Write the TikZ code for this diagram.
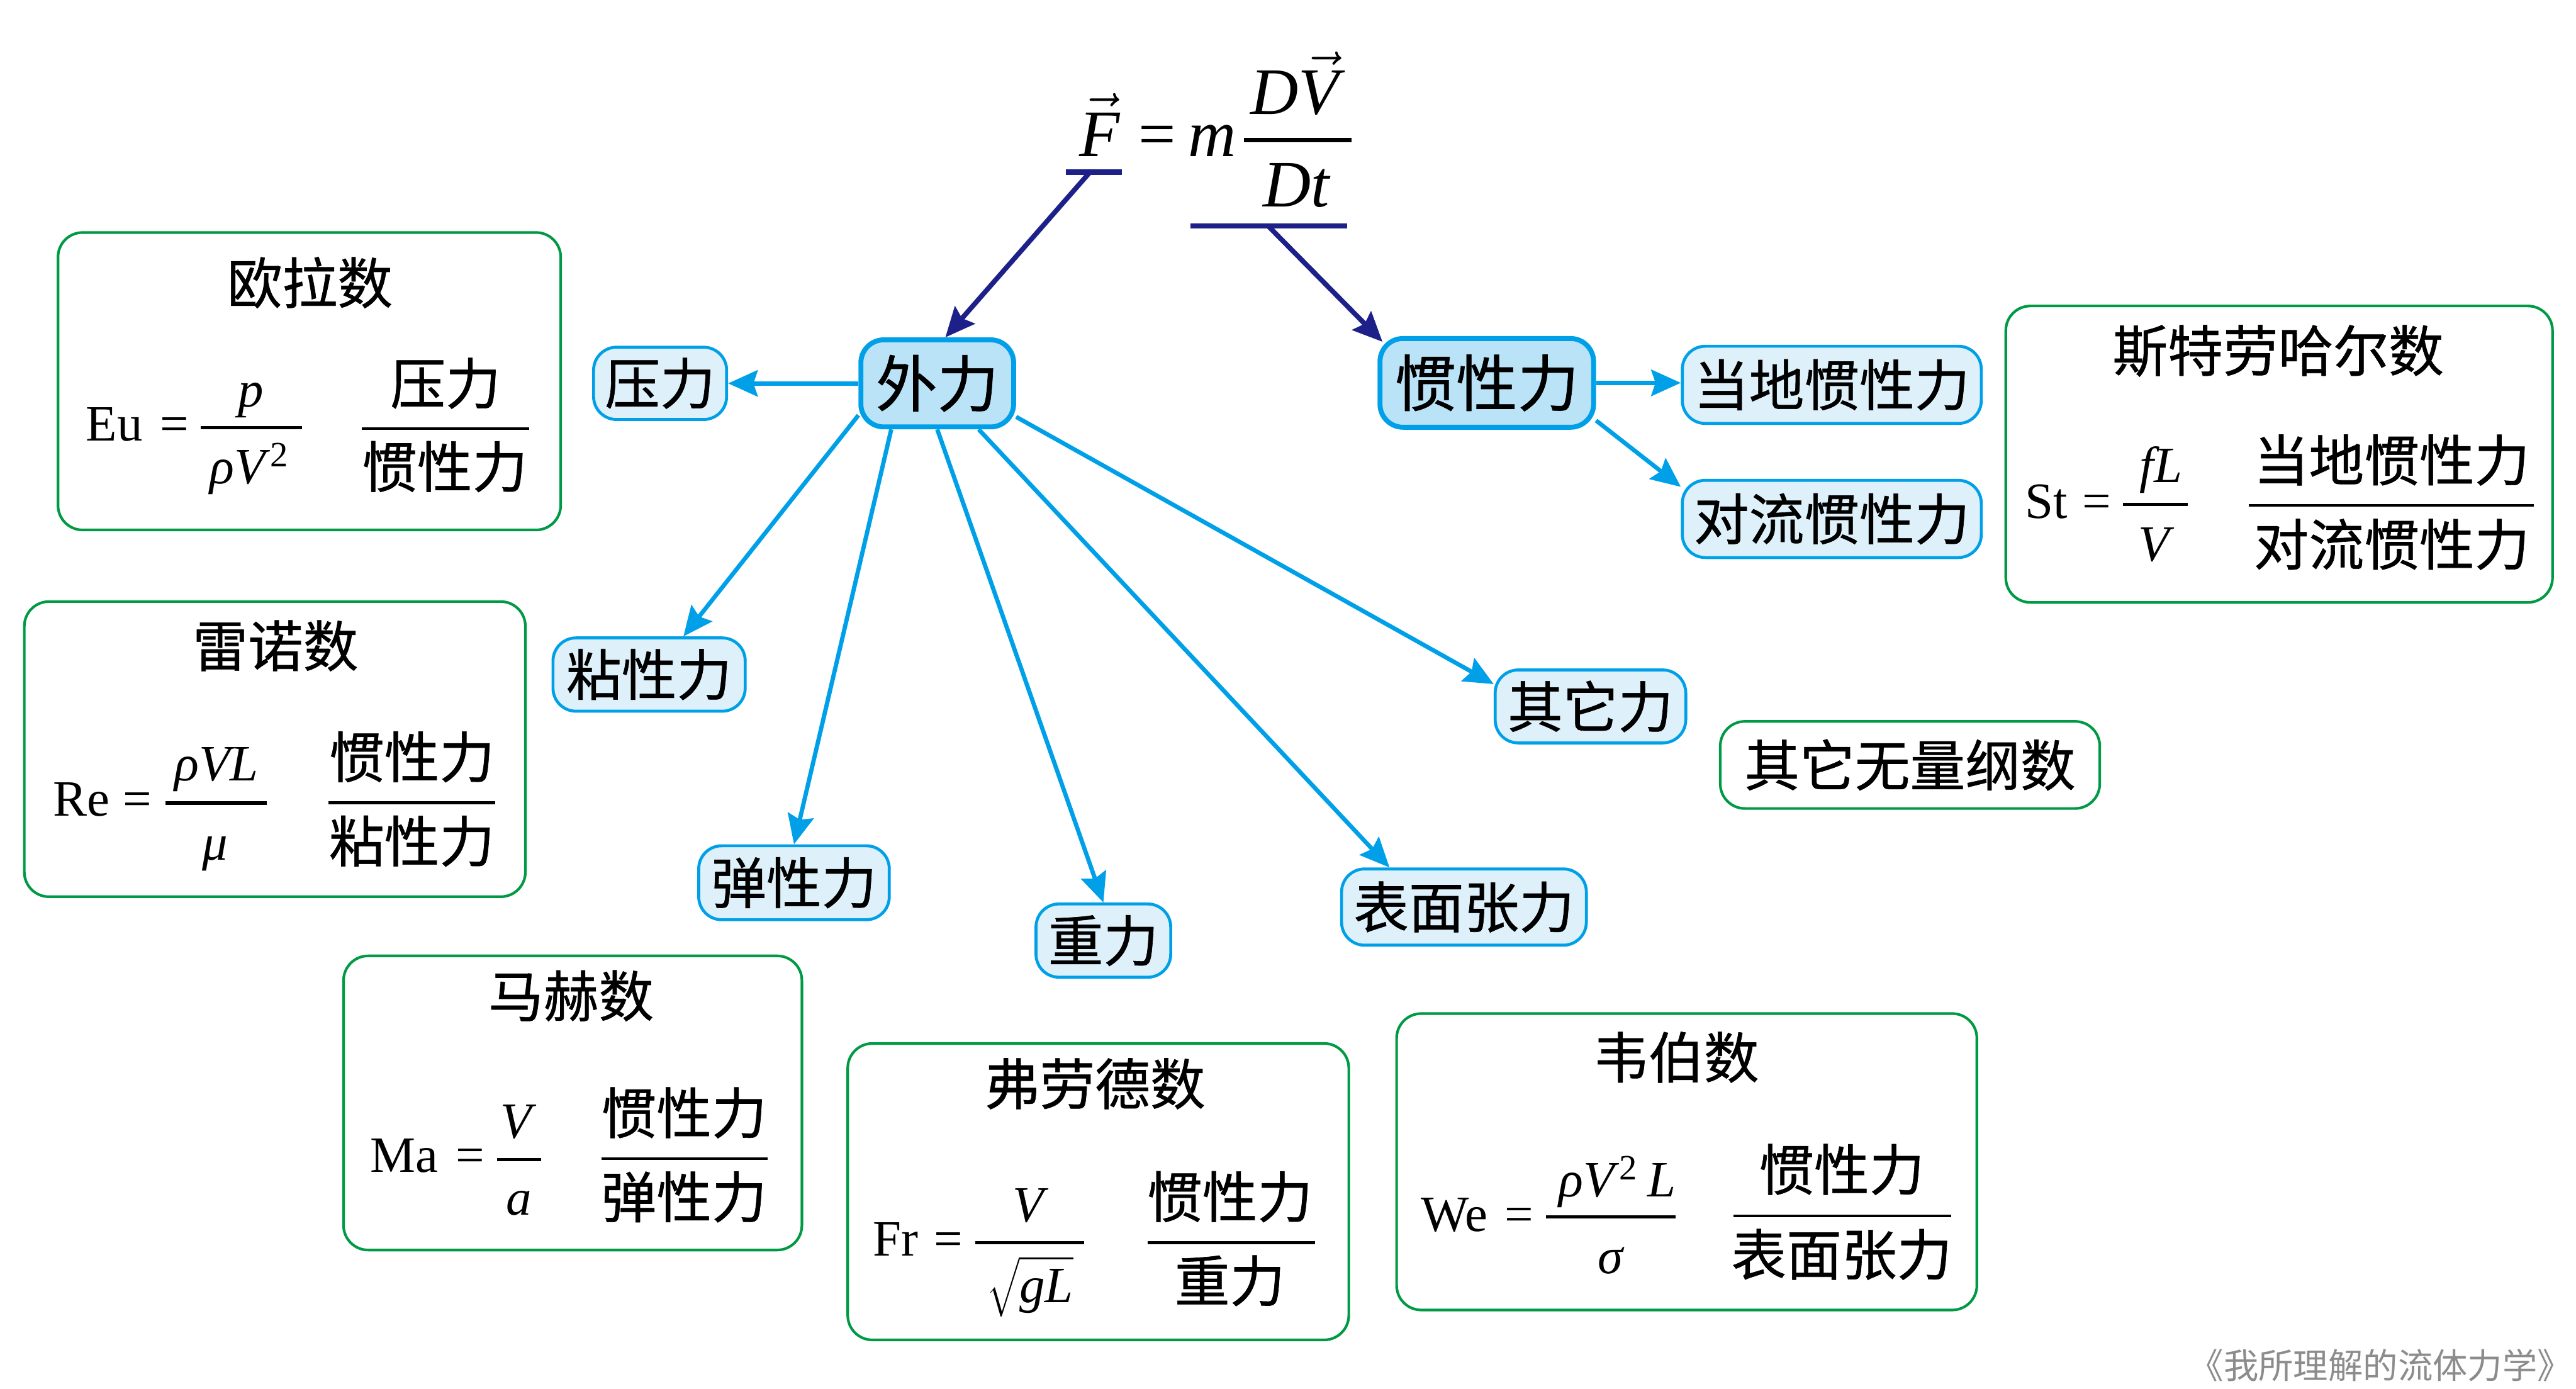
\documentclass[tikz,border=0pt]{standalone}
\usepackage{fontspec}
\setmainfont{Liberation Serif}
\newfontfamily\cjkfont{Noto Sans CJK SC}[FakeBold=0.7]
\newfontfamily\wmcjk{Noto Sans CJK SC}
\usetikzlibrary{arrows.meta,calc}
\definecolor{nodeblue}{HTML}{00A0E9}
\definecolor{bigfill}{HTML}{BAE3F8}
\definecolor{smallfill}{HTML}{DEF0FA}
\definecolor{boxgreen}{HTML}{009944}
\definecolor{navy}{HTML}{1D2088}
\definecolor{wmgray}{HTML}{8C8C8C}
\tikzset{
  bignode/.style={draw=nodeblue, fill=bigfill, line width=1.5pt, rounded corners=7pt, inner sep=0pt, font=\cjkfont\fontsize{18.7}{20}\selectfont},
  smallnode/.style={draw=nodeblue, fill=smallfill, line width=0.9pt, rounded corners=7pt, inner sep=0pt, font=\cjkfont\fontsize{16.8}{18}\selectfont},
  greenbox/.style={draw=boxgreen, line width=0.8pt, rounded corners=7.5pt, inner sep=0pt},
  cjk/.style={inner sep=0pt, font=\cjkfont\fontsize{16.8}{18}\selectfont},
  mth/.style={inner sep=0pt, anchor=base, font=\fontsize{15.5}{18}\selectfont},
  topm/.style={inner sep=0pt, anchor=base, font=\fontsize{20.2}{24}\selectfont},
  fbar/.style={line width=1pt},
  cbar/.style={line width=0.8pt},
  bluearrow/.style={draw=nodeblue, line width=1.3pt, -{Stealth[length=9pt,width=8pt,inset=1.3pt]}},
  navyarrow/.style={draw=navy, line width=1.5pt, -{Stealth[length=9pt,width=8pt,inset=1.3pt]}},
  uline/.style={draw=navy, line width=1.6pt},
  wmark/.style={inner sep=0pt, text=wmgray, font=\wmcjk\fontsize{10.6}{12}\selectfont}
}
\newcommand\vecarrow[1]{\ensuremath{\vec{\mbox{\textit{#1}}}}}
\begin{document}
\begin{tikzpicture}[x=0.5pt, y=-0.5pt]
\useasboundingbox (0,0) rectangle (1568,845);

% ---- top formula ----
\node[topm] (fF) at (669.4,95.1) {\vecarrow{F}};
\node[topm] (fEq) at (704.5,95.1) {=};
\node[topm] (fm) at (738,95.1) {\textit{m}};
\draw[line width=1.4pt] (757.3,85.1) -- (822.5,85.1);
\node[topm] (fDV) at (790,69.6) {\textit{D}\vecarrow{V}};
\node[topm] (fDt) at (789.5,125.7) {\textit{Dt}};
\draw[uline] (648.8,104.7) -- (682.8,104.7);
\draw[uline] (724.6,137.5) -- (820,137.5);
\coordinate (uF) at (663.5,104.7);
\coordinate (uD) at (771.9,137.5);

% ---- blue nodes ----
\node[bignode, minimum width=46.5pt, minimum height=26.5pt] (waili) at (570.5,233.3) {外力};
\node[bignode, minimum width=65pt, minimum height=27pt] (guanxing) at (905,233) {惯性力};
\node[smallnode, minimum width=91pt, minimum height=23.5pt] (dangdi) at (1115,234.2) {当地惯性力};
\node[smallnode, minimum width=91pt, minimum height=23.5pt] (duiliu) at (1115,315.8) {对流惯性力};
\node[smallnode, minimum width=40.5pt, minimum height=22pt] (yali) at (401.8,233.3) {压力};
\node[smallnode, minimum width=58.5pt, minimum height=22.3pt] (nianxing) at (395.1,410.5) {粘性力};
\node[smallnode, minimum width=58pt, minimum height=22.5pt] (tanxing) at (483.3,537.2) {弹性力};
\node[smallnode, minimum width=41pt, minimum height=22.3pt] (zhongli) at (671.6,572.4) {重力};
\node[smallnode, minimum width=74.5pt, minimum height=23.2pt] (biaomian) at (891.1,552) {表面张力};
\node[smallnode, minimum width=58pt, minimum height=22.2pt] (qita) at (968.1,429.9) {其它力};

% ---- connectors ----
\draw[navyarrow] (uF) -- (waili.80);
\draw[navyarrow] (uD) -- ($(guanxing.north west)+(3,3.5)$);
\draw[bluearrow] (waili.west) -- (waili.west -| yali.east);
\draw[bluearrow] (waili.202) -- (nianxing.48);
\draw[bluearrow] (waili.225) -- (tanxing.north);
\draw[bluearrow] (waili.south) -- (zhongli.north);
\draw[bluearrow] (waili.-48) -- (biaomian.152);
\draw[bluearrow] (waili.-23) -- (qita.167);
\draw[bluearrow] (guanxing.east) -- (guanxing.east -| dangdi.west);
\draw[bluearrow] (guanxing.-19) -- (duiliu.168);

% ---- Euler ----
\node[greenbox, minimum width=153pt, minimum height=90.5pt] (eubox) at (188.3,232) {};
\node[cjk] (eut) at (188.6,172) {欧拉数};
\node[mth] (eul) at (69.6,268.1) {Eu};
\node[mth] (eueq) at (106.1,268.1) {=};
\draw[fbar] (122.3,260.1) -- (183.9,260.1);
\node[mth] (eun) at (152.7,247.5) {\textit{p}};
\node[mth] (eud) at (152.2,294.3) {\textit{ρV}\textsuperscript{2}};
\draw[cbar] (220.4,260.8) -- (322,260.8);
\node[cjk] (eucn) at (271.2,233.3) {压力};
\node[cjk] (eucd) at (270.7,284) {惯性力};

% ---- Reynolds ----
\node[greenbox, minimum width=152.5pt, minimum height=89.8pt] (rebox) at (167.3,455.9) {};
\node[cjk] (ret) at (167.7,393) {雷诺数};
\node[mth] (rel) at (49.6,496.7) {Re};
\node[mth] (reeq) at (83.6,496.7) {=};
\draw[fbar] (100.7,488.7) -- (162.2,488.7);
\node[mth] (ren) at (131.8,475.3) {\textit{ρVL}};
\node[mth] (red) at (131,523.2) {\textit{μ}};
\draw[cbar] (200,488.5) -- (301.4,488.5);
\node[cjk] (recn) at (250.7,460.6) {惯性力};
\node[cjk] (recd) at (250.7,511.9) {粘性力};

% ---- Mach ----
\node[greenbox, minimum width=139.5pt, minimum height=89.5pt] (mabox) at (348.6,671.2) {};
\node[cjk] (mat) at (347.6,606) {马赫数};
\node[mth] (mal) at (246.2,713.5) {Ma};
\node[mth] (maeq) at (286.4,713.5) {=};
\draw[fbar] (302.4,705.7) -- (329.4,705.7);
\node[mth] (man) at (315.5,692.8) {\textit{V}};
\node[mth] (mad) at (316,739.4) {\textit{a}};
\draw[cbar] (366,705.2) -- (467.4,705.2);
\node[cjk] (macn) at (416.4,677.2) {惯性力};
\node[cjk] (macd) at (416.4,728.4) {弹性力};

% ---- Froude ----
\node[greenbox, minimum width=152.5pt, minimum height=90.2pt] (frbox) at (668.5,725.2) {};
\node[cjk] (frt) at (666.5,659.5) {弗劳德数};
\node[mth] (frl) at (545.3,764.1) {Fr};
\node[mth] (freq) at (577.3,764.1) {=};
\draw[fbar] (593.5,756.2) -- (659.8,756.2);
\node[mth] (frn) at (627.2,743.6) {\textit{V}};
\node[mth] (frd) at (627,792.8) {$\sqrt{\rule[-4pt]{0pt}{16.5pt}\mbox{\textit{gL}}}$};
\draw[cbar] (698.5,756.2) -- (800.5,756.2);
\node[cjk] (frcn) at (748.6,728.3) {惯性力};
\node[cjk] (frcd) at (748.6,779.4) {重力};

% ---- Weber ----
\node[greenbox, minimum width=176.6pt, minimum height=90.2pt] (webox) at (1026.7,707) {};
\node[cjk] (wet) at (1020.3,643.4) {韦伯数};
\node[mth] (wel) at (885.3,749.4) {We};
\node[mth] (weeq) at (924.7,749.4) {=};
\draw[fbar] (941,740.5) -- (1020.1,740.5);
\node[mth] (wen) at (984.4,728.3) {\textit{ρV}\textsuperscript{2}\,\textit{L}};
\node[mth] (wed) at (980.7,774.9) {\textit{σ}};
\draw[cbar] (1055.3,739.8) -- (1187.8,739.8);
\node[cjk] (wecn) at (1121,711.7) {惯性力};
\node[cjk] (wecd) at (1121,763.4) {表面张力};

% ---- Strouhal ----
\node[greenbox, minimum width=166.4pt, minimum height=90.2pt] (stbox) at (1387.3,276.4) {};
\node[cjk] (stt) at (1386.7,213.5) {斯特劳哈尔数};
\node[mth] (stl) at (1245.6,315.3) {St};
\node[mth] (steq) at (1276.2,315.3) {=};
\draw[fbar] (1292.3,307) -- (1331.6,307);
\node[mth] (stn) at (1315.3,293.6) {\textit{fL}};
\node[mth] (std) at (1312.5,341.5) {\textit{V}};
\draw[cbar] (1368.7,307.4) -- (1542.4,307.4);
\node[cjk] (stcn) at (1455.8,280) {当地惯性力};
\node[cjk] (stcd) at (1455.8,331.3) {对流惯性力};

% ---- other ----
\node[greenbox, cjk, minimum width=115.5pt, minimum height=26.5pt] (other) at (1162.6,465.5) {其它无量纲数};

% ---- watermark ----
\node[wmark] (wm) at (1449,831) {《我所理解的流体力学》};
\end{tikzpicture}
\end{document}
